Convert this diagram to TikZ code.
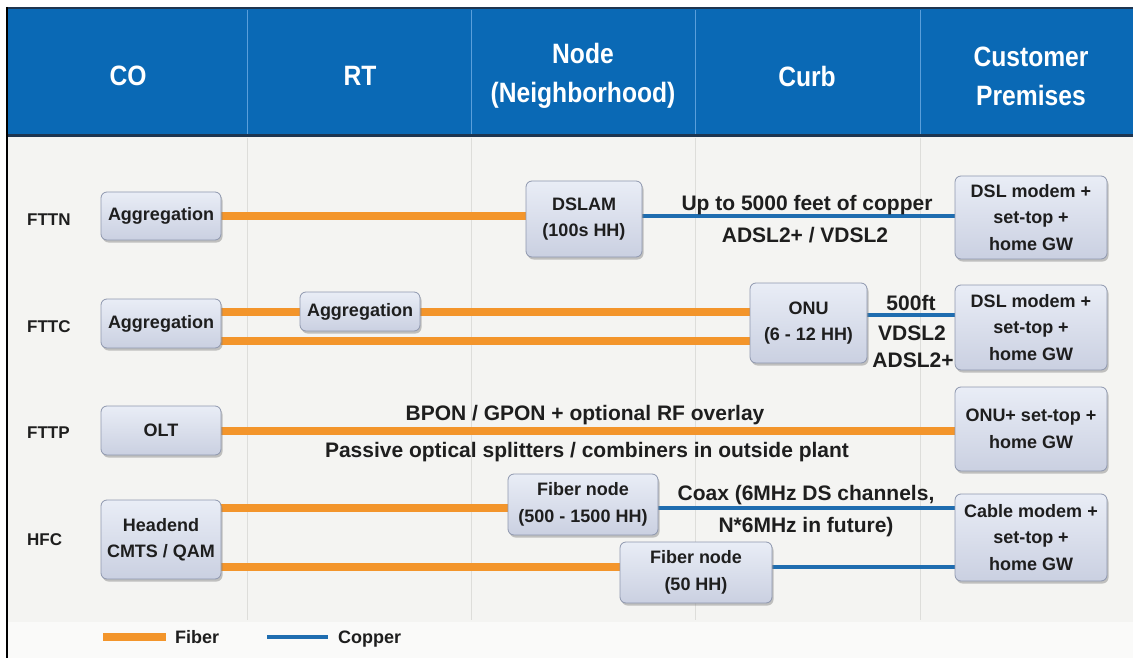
\documentclass[tikz,border=0pt]{standalone}
\usepackage{fontspec}
\setmainfont{Liberation Sans}
\newfontfamily\hdrfont{Liberation Sans}[FakeStretch=0.88]
\usetikzlibrary{shadows}

\definecolor{hdrblue}{HTML}{0A69B5}
\definecolor{hdrline}{HTML}{5A9FDB}
\definecolor{hdredge}{HTML}{1E3550}
\definecolor{bodybg}{HTML}{F4F4F2}
\definecolor{legendbg}{HTML}{FAFAF9}
\definecolor{gridline}{HTML}{DDDDDA}
\definecolor{fiberc}{HTML}{F3952B}
\definecolor{copperc}{HTML}{1F6DB0}
\definecolor{boxtop}{HTML}{E9EDF6}
\definecolor{boxbot}{HTML}{CAD0E1}
\definecolor{boxedge}{HTML}{8E97AE}
\definecolor{inkc}{HTML}{1E1E1E}

\pgfdeclarelayer{bg}
\pgfdeclarelayer{links}
\pgfsetlayers{bg,links,main}

\tikzset{
  netbox/.style={rectangle, rounded corners=6pt, draw=boxedge, line width=0.8pt,
    top color=boxtop, bottom color=boxbot,
    drop shadow={shadow xshift=1.5pt, shadow yshift=-2.5pt, fill=black!50, opacity=0.45},
    text=inkc, font=\bfseries\fontsize{18}{26.5}\selectfont, align=center, inner sep=0pt},
  sz/.style 2 args={minimum width=#1pt, minimum height=#2pt},
  fiber/.style={line width=8pt, draw=fiberc},
  copper/.style={line width=3.2pt, draw=copperc},
  lbl/.style={text=inkc, font=\bfseries\fontsize{21}{26}\selectfont, anchor=base, inner sep=0pt},
  rowlbl/.style={text=inkc, font=\bfseries\fontsize{17}{20}\selectfont, anchor=base west, inner sep=0pt},
  hdr/.style={text=white, font=\hdrfont\bfseries\fontsize{28}{39}\selectfont, align=center, inner sep=0pt},
  legendtxt/.style={text=inkc, font=\bfseries\fontsize{18}{20}\selectfont, anchor=base west, inner sep=0pt}
}

\begin{document}
\begin{tikzpicture}[x=1pt,y=-1pt]
\useasboundingbox (0,0) rectangle (1133,658);

% ---------- frame, header band and column grid ----------
\begin{pgfonlayer}{bg}
  \fill[white] (0,0) rectangle (1133,658);
  \fill[bodybg] (8,137) rectangle (1133,622);
  \fill[legendbg] (8,622) rectangle (1133,658);
  \fill[hdrblue] (8,8) rectangle (1133,136);
  \draw[hdredge, line width=2pt] (8,8.5) -- (1133,8.5);
  \draw[hdredge, line width=2.5pt] (8,135.5) -- (1133,135.5);
  \foreach \cx in {247,471,695,920} {
    \draw[hdrline, line width=1pt] (\cx,10) -- (\cx,134);
    \draw[gridline, line width=0.8pt] (\cx,138) -- (\cx,620);
  }
  \draw[black, line width=2.5pt] (7,7) -- (7,658);
\end{pgfonlayer}

% ---------- column headings ----------
\node[hdr] (hco)   at (128,76) {CO};
\node[hdr] (hrt)   at (360,76) {RT};
\node[hdr] (hnode) at (583,76) {Node\\(Neighborhood)};
\node[hdr] (hcurb) at (807,76) {Curb};
\node[hdr] (hcp)   at (1031,76) {Customer\\Premises};

% ---------- row names ----------
\node[rowlbl] (rfttn) at (27,225) {FTTN};
\node[rowlbl] (rfttc) at (27,332) {FTTC};
\node[rowlbl] (rfttp) at (27,438) {FTTP};
\node[rowlbl] (rhfc)  at (27,545) {HFC};

% ---------- equipment boxes ----------
% FTTN
\node[netbox, sz={120}{48}]  (aggn)  at (161,216)    {Aggregation};
\node[netbox, sz={116}{76}]  (dslam) at (584,219)    {DSLAM\\(100s HH)};
\node[netbox, sz={152}{83}]  (cpen)  at (1031,217.5) {DSL modem +\\set-top +\\home GW};
% FTTC
\node[netbox, sz={120}{49}]  (aggc)  at (161,323.5)  {Aggregation};
\node[netbox, sz={120}{39}]  (aggrt) at (360,311.5)  {Aggregation};
\node[netbox, sz={117}{80}]  (onu)   at (808.5,323)  {ONU\\(6 - 12 HH)};
\node[netbox, sz={152}{85}]  (cpec)  at (1031,327.5) {DSL modem +\\set-top +\\home GW};
% FTTP
\node[netbox, sz={120}{49}]  (olt)   at (161,430.5)  {OLT};
\node[netbox, sz={152}{84}]  (cpep)  at (1031,429)   {ONU+ set-top +\\home GW};
% HFC
\node[netbox, sz={120}{79}]  (head)  at (161,539.5)  {Headend\\CMTS / QAM};
\node[netbox, sz={150}{61}]  (fnA)   at (583,504.5)  {Fiber node\\(500 - 1500 HH)};
\node[netbox, sz={152}{61}]  (fnB)   at (696,572.5)  {Fiber node\\(50 HH)};
\node[netbox, sz={152}{87}]  (cpeh)  at (1031,537.5) {Cable modem +\\set-top +\\home GW};

% ---------- link attachment points ----------
\coordinate (cLow)  at ([yshift=-17pt]aggc.east);
\coordinate (cOnu)  at ([yshift=8pt]onu.east);
\coordinate (hUp)   at ([yshift=31.5pt]head.east);
\coordinate (hLow)  at ([yshift=-27.5pt]head.east);

% ---------- links ----------
\begin{pgfonlayer}{links}
  % FTTN
  \draw[fiber]  (aggn.east) -- (aggn.east -| dslam.west);
  \draw[copper] (dslam.east |- aggn.east) -- (aggn.east -| cpen.west);
  % FTTC
  \draw[fiber]  (aggc.east |- aggrt.west) -- (aggrt.west);
  \draw[fiber]  (aggrt.east) -- (aggrt.east -| onu.west);
  \draw[fiber]  (cLow) -- (cLow -| onu.west);
  \draw[copper] (cOnu) -- (cOnu -| cpec.west);
  % FTTP
  \draw[fiber]  (olt.east) -- (olt.east -| cpep.west);
  % HFC
  \draw[fiber]  (hUp) -- (hUp -| fnA.west);
  \draw[copper] (fnA.east |- hUp) -- (hUp -| cpeh.west);
  \draw[fiber]  (hLow) -- (hLow -| fnB.west);
  \draw[copper] (fnB.east |- hLow) -- (hLow -| cpeh.west);
\end{pgfonlayer}

% ---------- link annotations ----------
\node[lbl] (tN1) at (807,210) {Up to 5000 feet of copper};
\node[lbl] (tN2) at (805,242) {ADSL2+ / VDSL2};
\node[lbl] (tC1) at (911,310) {500ft};
\node[lbl] (tC2) at (912,340) {VDSL2};
\node[lbl] (tC3) at (913,367) {ADSL2+};
\node[lbl] (tP1) at (585,420) {BPON / GPON + optional RF overlay};
\node[lbl] (tP2) at (587,457) {Passive optical splitters / combiners in outside plant};
\node[lbl] (tH1) at (806,500) {Coax (6MHz DS channels,};
\node[lbl] (tH2) at (806,532) {N*6MHz in future)};

% ---------- legend ----------
\coordinate (fibA) at (103,637);
\coordinate (fibB) at (166,637);
\coordinate (copA) at (267,637);
\coordinate (copB) at (328,637);
\draw[fiber]  (fibA) -- (fibB);
\draw[copper] (copA) -- (copB);
\node[legendtxt] (lgF) at (175,643) {Fiber};
\node[legendtxt] (lgC) at (338,643) {Copper};
\end{tikzpicture}
\end{document}
